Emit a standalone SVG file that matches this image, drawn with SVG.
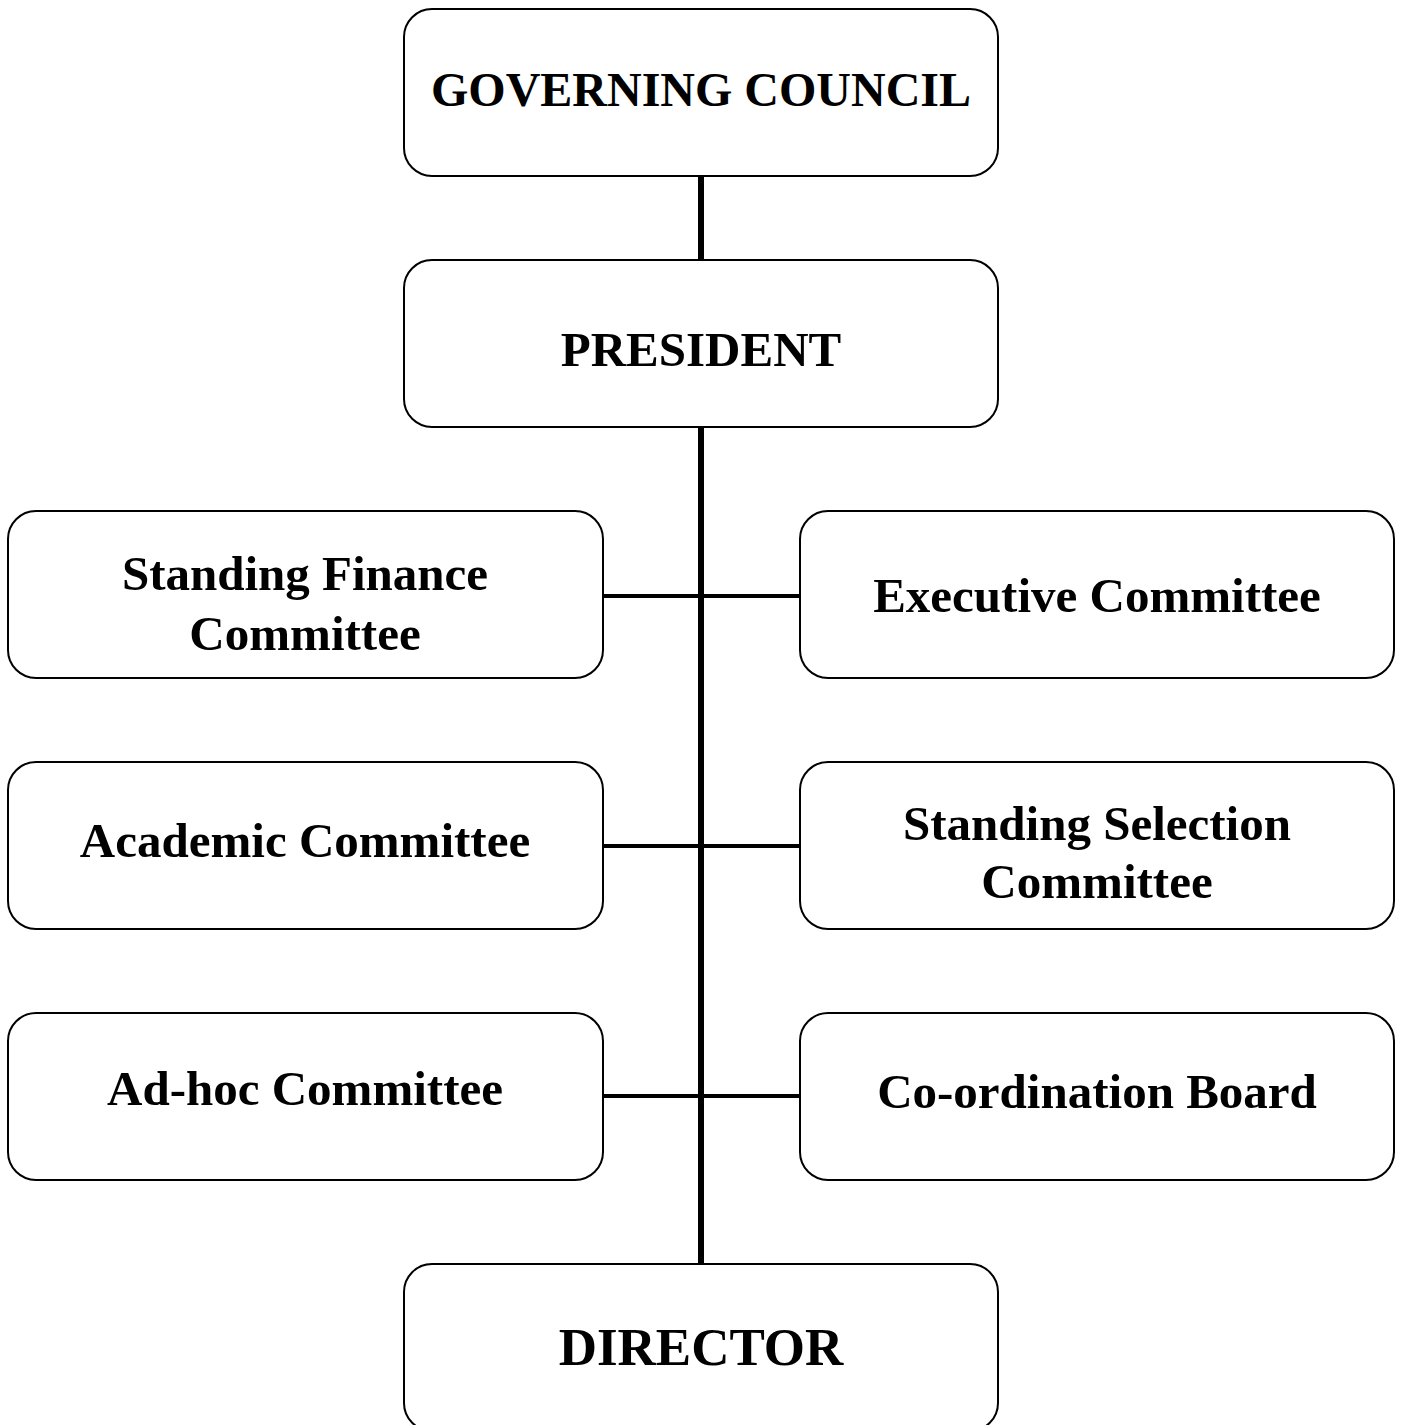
<svg xmlns="http://www.w3.org/2000/svg" width="1402" height="1425" viewBox="0 0 1402 1425">
<style>
.box{fill:#fff;stroke:#000;stroke-width:2}
.t{font-family:"Liberation Serif","Times New Roman",serif;font-weight:bold;font-size:49px;fill:#000;text-anchor:middle}
.con{stroke:#000;fill:none}
</style>
<rect width="1402" height="1425" fill="#fff"/>
<g id="connectors">
<line class="con" x1="701" y1="176" x2="701" y2="260" stroke-width="6"/>
<line class="con" x1="701" y1="427" x2="701" y2="1264" stroke-width="6"/>
<line class="con" x1="603" y1="596" x2="800" y2="596" stroke-width="4"/>
<line class="con" x1="603" y1="846" x2="800" y2="846" stroke-width="4"/>
<line class="con" x1="603" y1="1096" x2="800" y2="1096" stroke-width="4"/>
</g>
<g id="governing-council"><rect class="box" x="404" y="9" width="594" height="167" rx="28"/><text class="t" x="701" y="106" style="font-size:48px">GOVERNING COUNCIL</text></g>
<g id="president"><rect class="box" x="404" y="260" width="594" height="167" rx="28"/><text class="t" x="701" y="366">PRESIDENT</text></g>
<g id="standing-finance"><rect class="box" x="8" y="511" width="595" height="167" rx="28"/><text class="t" x="305" y="590">Standing Finance</text><text class="t" x="305" y="650">Committee</text></g>
<g id="executive"><rect class="box" x="800" y="511" width="594" height="167" rx="28"/><text class="t" x="1097" y="612">Executive Committee</text></g>
<g id="academic"><rect class="box" x="8" y="762" width="595" height="167" rx="28"/><text class="t" x="305" y="857">Academic Committee</text></g>
<g id="standing-selection"><rect class="box" x="800" y="762" width="594" height="167" rx="28"/><text class="t" x="1097" y="840">Standing Selection</text><text class="t" x="1097" y="898">Committee</text></g>
<g id="adhoc"><rect class="box" x="8" y="1013" width="595" height="167" rx="28"/><text class="t" x="305" y="1105">Ad-hoc Committee</text></g>
<g id="coordination"><rect class="box" x="800" y="1013" width="594" height="167" rx="28"/><text class="t" x="1097" y="1108">Co-ordination Board</text></g>
<g id="director"><rect class="box" x="404" y="1264" width="594" height="167" rx="28"/><text class="t" x="701" y="1365" style="font-size:53px">DIRECTOR</text></g>
</svg>
